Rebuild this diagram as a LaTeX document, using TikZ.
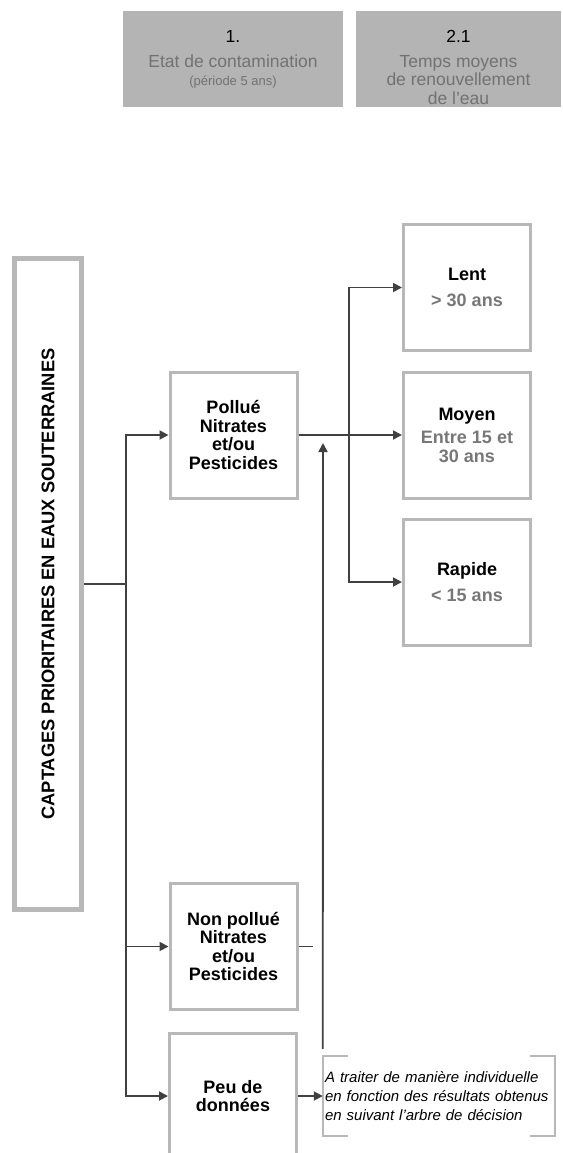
\documentclass[tikz,border=0pt]{standalone}
\usepackage{fontspec}
\setmainfont{Liberation Sans}
\usetikzlibrary{positioning,arrows.meta}
\definecolor{boxgrey}{HTML}{B8B8B8}
\definecolor{topgrey}{HTML}{B4B4B4}
\definecolor{headgrey}{HTML}{727272}
\definecolor{textgrey}{HTML}{777777}
\definecolor{linkgrey}{HTML}{404040}

\begin{document}
\begin{tikzpicture}[x=1pt,y=-1pt,>={Triangle[length=9pt,width=9pt]},font=\fontsize{18}{18.5}\selectfont\bfseries]
            \tikzstyle{grey box}=[draw=boxgrey,line width=3pt,minimum width=127pt,minimum height=126pt,align=center,inner sep=0pt]
            \tikzstyle{head}=[text=headgrey,font=\fontsize{17.5}{18.5}\selectfont,align=center,anchor=north,inner sep=0pt]
            \tikzstyle{link}=[draw=linkgrey,line width=1.8pt]
            \tikzstyle{bracket}=[draw=boxgrey,line width=1.5pt]
            \useasboundingbox (0,0) rectangle (562,1153);
            \fill[topgrey] (123,11) rectangle (343,107);
            \fill[topgrey] (356,11) rectangle (561,107);
            \node[head] (etat) at (233,30.5) {\textcolor{black}{1.}\\[6pt]Etat de contamination\\{\fontsize{13}{18}\selectfont(période 5 ans)}};
            \node[head] (temps) at (458.5,30.5) {\textcolor{black}{2.1}\\[6pt]Temps moyens\\de renouvellement\\de l'eau};
            \node[grey box,line width=5pt,minimum width=67pt,minimum height=651pt] (captages) at (48,584) {\rotatebox{90}{\fontsize{18.3}{18.5}\selectfont CAPTAGES PRIORITAIRES EN EAUX SOUTERRAINES}};
            \node[grey box] (pollue) at (233.5,435) {Pollué\\Nitrates\\et/ou\\Pesticides};
            \node[grey box] (nonpollue) at (233.5,946.5) {Non pollué\\Nitrates\\et/ou\\Pesticides};
            \node[grey box] (peu) at (233,1096) {Peu de\\données};
            \node[grey box] (lent) at (467,287.5) {Lent\\[8pt]\textcolor{textgrey}{> 30 ans}};
            \node[grey box] (moyen) at (467,435) {Moyen\\[5pt]\textcolor{textgrey}{Entre 15 et}\\\textcolor{textgrey}{30 ans}};
            \node[grey box] (rapide) at (467,582) {Rapide\\[8pt]\textcolor{textgrey}{< 15 ans}};
            \node[font=\fontsize{15}{19}\selectfont\itshape,align=left,text width=228pt,inner sep=2pt,minimum height=80pt] (note) at (439,1096) {A traiter de manière individuelle\\en fonction des résultats obtenus\\en suivant l'arbre de décision};
            \draw[bracket] ([xshift=25pt]note.north west) -- (note.north west) -- (note.south west) -- ([xshift=25pt]note.south west);
            \draw[bracket] ([xshift=-25pt]note.north east) -- (note.north east) -- (note.south east) -- ([xshift=-25pt]note.south east);
            \coordinate (fork1) at (126,584);
            \coordinate (fork2) at (349,435);
            \coordinate (stub) at (313,946.5);
            \coordinate (up) at (323,443);
            \draw[link] (captages.east) -- (fork1);
            \draw[link,->] (fork1) |- (pollue.west);
            \draw[link,->] (fork1) |- (nonpollue.west);
            \draw[link,->] (fork1) |- (peu.west);
            \draw[link,->] (pollue.east) -- (moyen.west);
            \draw[link,->] (fork2) |- (lent.west);
            \draw[link,->] (fork2) |- (rapide.west);
            \draw[link] (nonpollue.east) -- (stub);
            \draw[link,->] ([yshift=7pt]note.north west) -- (up);
            \draw[link,->] (peu.east) -- (note.west);
          \end{tikzpicture}
\end{document}
